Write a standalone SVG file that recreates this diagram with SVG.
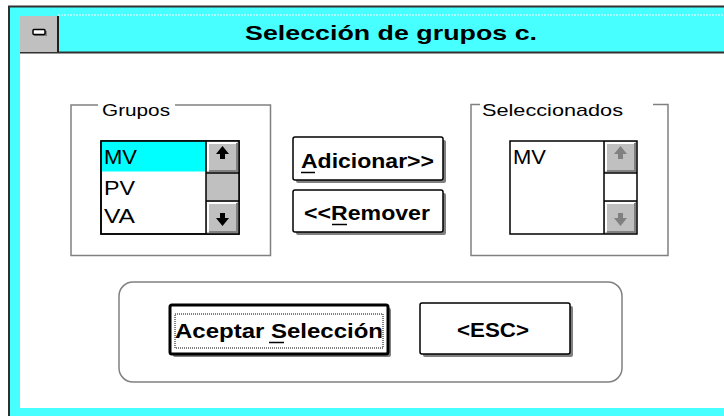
<svg xmlns="http://www.w3.org/2000/svg" width="724" height="416" viewBox="0 0 724 416">
<style>
.t{font-family:"Liberation Sans",Arial,sans-serif;fill:#000}
.b{font-weight:bold}
.grp{fill:none;stroke:#808080;stroke-width:1.5}
.btn{fill:#fff;stroke:#000;stroke-width:1.5}
.shd{fill:#808080}
.sb{fill:#c0c0c0}
.hl{stroke:#fff;stroke-width:2;fill:none}
.dk{stroke:#808080;stroke-width:2;fill:none}
.cy{fill:#48FFFF}
</style>
<rect width="724" height="416" fill="#fff"/>
<g id="window">
<rect class="cy" x="9" y="6" width="720" height="415"/>
<line x1="9" y1="6" x2="9" y2="416" stroke="#303030" stroke-width="2"/>
<line x1="8" y1="6.5" x2="724" y2="6.5" stroke="#303030" stroke-width="2"/>
<rect x="20" y="53" width="704" height="355" fill="#fff"/>
<line x1="20" y1="52.5" x2="724" y2="52.5" stroke="#303030" stroke-width="2"/>
<line x1="58" y1="15" x2="724" y2="15" stroke="#fff" stroke-width="1" stroke-dasharray="2 1"/>
</g>
<g id="sysmenu">
<rect x="20" y="16" width="38" height="36" fill="#c0c0c0"/>
<line x1="58" y1="16" x2="58" y2="52" stroke="#202020" stroke-width="2"/>
<rect x="34" y="31" width="13" height="5" fill="#808080"/>
<rect x="33" y="29.5" width="12" height="5" rx="1" fill="#fff" stroke="#000" stroke-width="1.5"/>
</g>
<g id="title">
<text class="t b" x="245" y="40" font-size="21" textLength="292" lengthAdjust="spacingAndGlyphs">Selección de grupos c.</text>
</g>
<g id="grupos">
<path class="grp" d="M98 105 H71 V255.5 H270.5 V105 H175"/>
<text class="t" x="102" y="116" font-size="17" textLength="68" lengthAdjust="spacingAndGlyphs">Grupos</text>
<rect x="101" y="141" width="138" height="93" fill="#fff" stroke="#000" stroke-width="1.5"/>
<rect x="102" y="141.5" width="104" height="30" fill="#00FFFF"/>
<text class="t" x="104" y="164" font-size="21" textLength="33" lengthAdjust="spacingAndGlyphs">MV</text>
<text class="t" x="104" y="195" font-size="21" textLength="31" lengthAdjust="spacingAndGlyphs">PV</text>
<text class="t" x="104" y="223" font-size="21" textLength="31" lengthAdjust="spacingAndGlyphs">VA</text>
<rect class="sb" x="206" y="141" width="33" height="93"/>
<line x1="206" y1="141" x2="206" y2="234" stroke="#000" stroke-width="1.5"/>
<line x1="206" y1="173" x2="239" y2="173" stroke="#000" stroke-width="1.5"/>
<line x1="206" y1="201" x2="239" y2="201" stroke="#000" stroke-width="1.5"/>
<path class="hl" d="M208 171 V143 H237"/>
<path class="dk" d="M209 171 H237 V143"/>
<path d="M222.5 146 L216 154 H220 V159 H225 V154 H229 Z" fill="#000"/>
<path class="hl" d="M208 232 V203 H237"/>
<path class="dk" d="M209 232 H237 V203"/>
<path d="M222.5 226 L216 218 H220 V213 H225 V218 H229 Z" fill="#000"/>
<rect x="101" y="141" width="138" height="93" fill="none" stroke="#000" stroke-width="1.5"/>
</g>
<g id="seleccionados">
<path class="grp" d="M480 104.5 H471 V255.5 H668 V104.5 H653"/>
<text class="t" x="482" y="116" font-size="17" textLength="141" lengthAdjust="spacingAndGlyphs">Seleccionados</text>
<rect x="510" y="141" width="127" height="93" fill="#fff"/>
<text class="t" x="513" y="164" font-size="21" textLength="33" lengthAdjust="spacingAndGlyphs">MV</text>
<rect class="sb" x="604" y="141" width="33" height="32"/>
<rect class="sb" x="604" y="201" width="33" height="33"/>
<line x1="604" y1="141" x2="604" y2="234" stroke="#000" stroke-width="1.5"/>
<line x1="604" y1="173" x2="637" y2="173" stroke="#000" stroke-width="1.5"/>
<line x1="604" y1="201" x2="637" y2="201" stroke="#000" stroke-width="1.5"/>
<path class="hl" d="M606 171 V143 H635"/>
<path class="dk" d="M607 171 H635 V143"/>
<path d="M620.5 146 L614 154 H618 V159 H623 V154 H627 Z" fill="#808080"/>
<path class="hl" d="M606 232 V203 H635"/>
<path class="dk" d="M607 232 H635 V203"/>
<path d="M620.5 226 L614 218 H618 V213 H623 V218 H627 Z" fill="#808080"/>
<rect x="510" y="141" width="127" height="93" fill="none" stroke="#000" stroke-width="1.5"/>
</g>
<g id="btn-adicionar">
<rect class="shd" x="296" y="140" width="150" height="43" rx="2"/>
<rect class="btn" x="293" y="137" width="150" height="43" rx="2"/>
<text class="t b" x="301" y="168" font-size="20" textLength="133" lengthAdjust="spacingAndGlyphs">Adicionar&gt;&gt;</text>
<line x1="301" y1="172.5" x2="315" y2="172.5" stroke="#000" stroke-width="1.5"/>
</g>
<g id="btn-remover">
<rect class="shd" x="296" y="193" width="150" height="42" rx="2"/>
<rect class="btn" x="293" y="190" width="150" height="42" rx="2"/>
<text class="t b" x="304" y="220" font-size="20" textLength="126" lengthAdjust="spacingAndGlyphs">&lt;&lt;Remover</text>
<line x1="332" y1="224.5" x2="347" y2="224.5" stroke="#000" stroke-width="1.5"/>
</g>
<g id="acciones">
<rect class="grp" x="119" y="282" width="503" height="100" rx="14"/>
</g>
<g id="btn-aceptar">
<rect class="shd" x="173" y="308" width="218" height="49" rx="2"/>
<rect x="170" y="305" width="218" height="49" rx="2" fill="#fff" stroke="#000" stroke-width="3"/>
<rect x="175" y="314" width="208" height="34" fill="none" stroke="#000" stroke-width="1" stroke-dasharray="1 1"/>
<text class="t b" x="175" y="338" font-size="20" textLength="208" lengthAdjust="spacingAndGlyphs">Aceptar Selección</text>
<line x1="269" y1="342.5" x2="284" y2="342.5" stroke="#000" stroke-width="1.5"/>
</g>
<g id="btn-esc">
<rect class="shd" x="423" y="306" width="150" height="51" rx="2"/>
<rect class="btn" x="420" y="303" width="150" height="51" rx="2"/>
<text class="t b" x="457" y="337" font-size="20" textLength="72" lengthAdjust="spacingAndGlyphs">&lt;ESC&gt;</text>
</g>
<g id="connectors"/>
</svg>
